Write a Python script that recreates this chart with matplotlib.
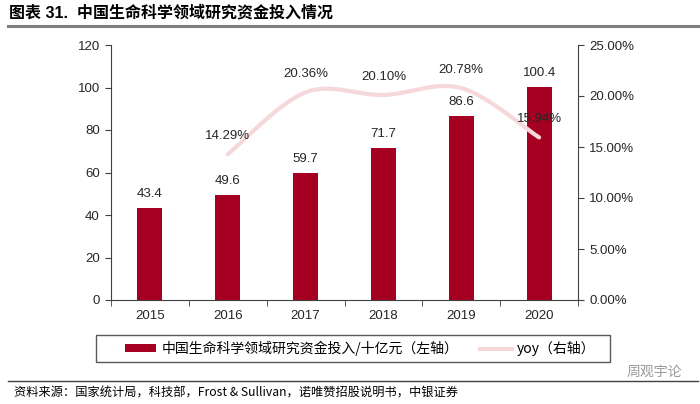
import numpy as np
import matplotlib.pyplot as plt
from matplotlib.path import Path
from matplotlib.patches import PathPatch, Rectangle, Patch
from matplotlib.lines import Line2D

# data
years = ['2015', '2016', '2017', '2018', '2019', '2020']
funding = [43.4, 49.6, 59.7, 71.7, 86.6, 100.4]   # 十亿元, left axis
yoy_years = [1, 2, 3, 4, 5]                        # index of 2016..2020
yoy = [14.29, 20.36, 20.10, 20.78, 15.94]          # %, right axis

bar_color = '#A50021'
line_color = '#F6D8DB'
num_font = ['Liberation Sans', 'Noto Sans CJK SC']
cjk_font = ['Noto Sans CJK SC', 'Liberation Sans']


def smooth_path(xs, ys):
    # Catmull-Rom style bezier through the data points (like Excel smoothed line)
    pts = np.column_stack([xs, ys]).astype(float)
    ext = np.vstack([pts[0], pts, pts[-1]])
    verts = [pts[0]]
    codes = [Path.MOVETO]
    for i in range(len(pts) - 1):
        p0, p1, p2, p3 = ext[i], ext[i + 1], ext[i + 2], ext[i + 3]
        c1 = p1 + (p2 - p0) / 6.0
        c2 = p2 - (p3 - p1) / 6.0
        verts += [c1, c2, p2]
        codes += [Path.CURVE4] * 3
    return Path(verts, codes)


fig = plt.figure(figsize=(7, 4.04), dpi=100)
ax = fig.add_axes([111 / 700, 1 - 300 / 404, 467 / 700, 255 / 404])
ax2 = ax.twinx()

x = np.arange(len(years))
bars = ax.bar(x, funding, width=0.32, color=bar_color, zorder=2)
for xi, v in zip(x, funding):
    ax.annotate(f'{v:.1f}', (xi, v), xytext=(0, 10), textcoords='offset points',
                ha='center', va='center', fontsize=9.5, color='#262626', family=num_font)

ax.set_xlim(-0.5, 5.5)
ax.set_ylim(0, 120)
ax.set_yticks(range(0, 121, 20))
ax.set_xticks(x)
ax.set_xticklabels(years)
ax.set_xticks(np.arange(-0.5, 6, 1), minor=True)
ax.tick_params(axis='x', which='major', length=0, pad=7, labelsize=9.5, labelcolor='#262626')
ax.tick_params(axis='x', which='minor', length=4, color='#404040', direction='out')
ax.tick_params(axis='y', length=4, color='#404040', labelsize=9.5, labelcolor='#262626', pad=4)
for lab in ax.get_xticklabels() + ax.get_yticklabels():
    lab.set_family(num_font)

for s in ['top', 'right']:
    ax.spines[s].set_visible(False)
ax.spines['left'].set_color('#404040')
ax.spines['bottom'].set_color('#404040')

ax2.set_ylim(0, 25)
ax2.set_yticks(np.arange(0, 25.1, 5))
ax2.set_yticklabels([f'{t:.2f}%' for t in np.arange(0, 25.1, 5)])
ax2.tick_params(axis='y', length=4, color='#404040', labelsize=9.5, labelcolor='#262626', pad=4)
for lab in ax2.get_yticklabels():
    lab.set_family(num_font)
for s in ['top', 'left', 'bottom']:
    ax2.spines[s].set_visible(False)
ax2.spines['right'].set_color('#404040')

ax2.add_patch(PathPatch(smooth_path(yoy_years, yoy), facecolor='none',
                        edgecolor=line_color, lw=3, capstyle='round', zorder=3))
for xi, v in zip(yoy_years, yoy):
    ax2.annotate(f'{v:.2f}%', (xi, v), xytext=(0, 13), textcoords='offset points',
                 ha='center', va='center', fontsize=9.5, color='#262626', family=num_font,
                 zorder=5)

# legend
fig.patches.append(Rectangle((96 / 700, 1 - 362 / 404), 514 / 700, 27 / 404,
                             transform=fig.transFigure, fill=False,
                             edgecolor='#595959', lw=1))
handles = [Patch(facecolor=bar_color, edgecolor='none'),
           Line2D([0], [0], color=line_color, lw=3)]
labels = ['中国生命科学领域研究资金投入/十亿元（左轴）', 'yoy（右轴）']
fig.legend(handles, labels, loc='center left', bbox_to_anchor=(112 / 700, 1 - 348.5 / 404),
           ncol=2, frameon=False, handlelength=2.3, handleheight=0.55, handletextpad=0.4,
           columnspacing=1.5, prop={'family': cjk_font, 'size': 10})

# title
fig.text(9 / 700, 1 - 13 / 404, '图表 31.  中国生命科学领域研究资金投入情况',
         fontsize=11.5, fontweight='bold', family=num_font, ha='left', va='center',
         color='#000000')
fig.add_artist(Line2D([8 / 700, 698 / 700], [1 - 26 / 404, 1 - 26 / 404],
                      transform=fig.transFigure, color='#7F7F7F', lw=2.2))

# source
fig.add_artist(Line2D([8 / 700, 698 / 700], [1 - 381 / 404, 1 - 381 / 404],
                      transform=fig.transFigure, color='#404040', lw=1))
fig.text(14 / 700, 1 - 393 / 404,
         '资料来源：国家统计局，科技部，Frost & Sullivan，诺唯赞招股说明书，中银证券',
         fontsize=8.8, family=cjk_font, style='italic', ha='left', va='center', color='#000000')
fig.text(682 / 700, 1 - 372 / 404, '周观宇论', fontsize=10, family=cjk_font,
         ha='right', va='center', color='#9A9A9A')

fig.savefig('out.png', dpi=100)
